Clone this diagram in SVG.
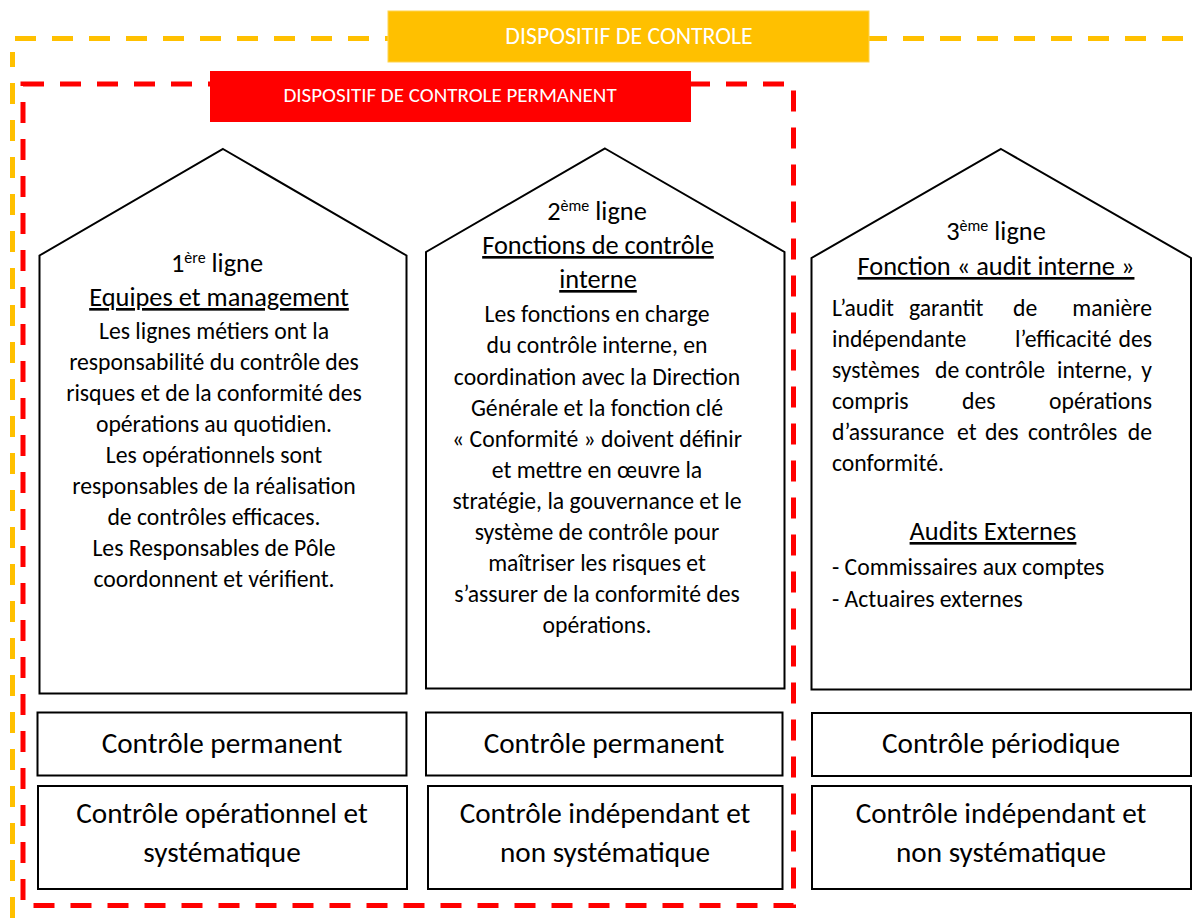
<svg xmlns="http://www.w3.org/2000/svg" width="1193" height="918" viewBox="0 0 1193 918">
<style>
text{font-family:Carlito,Lato,"Liberation Sans",sans-serif;fill:#000}
.b{font-size:23.7px;text-anchor:middle}
.j{font-size:23.7px}
.h{font-size:26.4px;text-anchor:middle}
.u{text-decoration:underline}
.sup{font-size:16px}
.box{fill:#fff;stroke:#000;stroke-width:2}
.bx{font-size:29.2px;text-anchor:middle}
.ban{fill:#fff;text-anchor:middle}
.house{fill:#fff;stroke:#000;stroke-width:2;stroke-linejoin:miter}
</style>
<rect width="1193" height="918" fill="#fff"/>
<g id="frames">
<path d="M12.5,918 V52" fill="none" stroke="#FFC000" stroke-width="5" stroke-dasharray="21 16"/>
<path d="M15,38.5 H1193" fill="none" stroke="#FFC000" stroke-width="5" stroke-dasharray="21 16"/>
<rect x="23" y="84" width="770.5" height="821.5" fill="none" stroke="#FF0000" stroke-width="5" stroke-dasharray="21 16"/>
</g>
<g id="banner-controle">
<rect x="388" y="11" width="481" height="51" fill="#FFC000" stroke="#FFD34D" stroke-width="1"/>
<text class="ban" x="629" y="44" font-size="23.8">DISPOSITIF DE CONTROLE</text>
</g>
<g id="banner-permanent">
<rect x="210" y="71" width="481" height="51" fill="#FF0000"/>
<text class="ban" x="450" y="102" font-size="21">DISPOSITIF DE CONTROLE PERMANENT</text>
</g>
<g id="house1">
<polygon class="house" points="223,149 406.5,255.5 406.5,693.5 39.5,693.5 39.5,255.5"/>
<text class="h" x="217" y="272">1<tspan class="sup" dy="-9">ère</tspan><tspan dy="9"> ligne</tspan></text>
<text class="h u" x="219" y="306">Equipes et management</text>
<text class="b" x="214" y="339">Les lignes métiers ont la</text>
<text class="b" x="214" y="370">responsabilité du contrôle des</text>
<text class="b" x="214" y="401">risques et de la conformité des</text>
<text class="b" x="214" y="432">opérations au quotidien.</text>
<text class="b" x="214" y="463">Les opérationnels sont</text>
<text class="b" x="214" y="494">responsables de la réalisation</text>
<text class="b" x="214" y="525">de contrôles efficaces.</text>
<text class="b" x="214" y="556">Les Responsables de Pôle</text>
<text class="b" x="214" y="587">coordonnent et vérifient.</text>
</g>
<g id="house2">
<polygon class="house" points="605,148.5 784.5,252 784.5,688.5 426,688.5 426,252"/>
<text class="h" x="597" y="220">2<tspan class="sup" dy="-9">ème</tspan><tspan dy="9"> ligne</tspan></text>
<text class="h u" x="598" y="254">Fonctions de contrôle</text>
<text class="h u" x="598" y="288">interne</text>
<text class="b" x="597" y="322">Les fonctions en charge</text>
<text class="b" x="597" y="353">du contrôle interne, en</text>
<text class="b" x="597" y="385">coordination avec la Direction</text>
<text class="b" x="597" y="416">Générale et la fonction clé</text>
<text class="b" x="597" y="447">« Conformité » doivent définir</text>
<text class="b" x="597" y="478">et mettre en œuvre la</text>
<text class="b" x="597" y="509">stratégie, la gouvernance et le</text>
<text class="b" x="597" y="540">système de contrôle pour</text>
<text class="b" x="597" y="571">maîtriser les risques et</text>
<text class="b" x="597" y="602">s’assurer de la conformité des</text>
<text class="b" x="597" y="633">opérations.</text>
</g>
<g id="house3">
<polygon class="house" points="1001,149 1191,258 1191,689.5 811.5,689.5 811.5,258"/>
<text class="h" x="996" y="240">3<tspan class="sup" dy="-9">ème</tspan><tspan dy="9"> ligne</tspan></text>
<text class="h u" x="996" y="275">Fonction « audit interne »</text>
<text class="j" y="316"><tspan x="832">L’audit</tspan><tspan x="909">garantit</tspan><tspan x="1013">de</tspan><tspan x="1152" text-anchor="end">manière</tspan></text>
<text class="j" y="347"><tspan x="832">indépendante</tspan><tspan x="1015">l’efficacité</tspan><tspan x="1152" text-anchor="end">des</tspan></text>
<text class="j" y="378"><tspan x="832">systèmes</tspan><tspan x="935">de</tspan><tspan x="965">contrôle</tspan><tspan x="1057">interne,</tspan><tspan x="1152" text-anchor="end">y</tspan></text>
<text class="j" y="409"><tspan x="832">compris</tspan><tspan x="962">des</tspan><tspan x="1152" text-anchor="end">opérations</tspan></text>
<text class="j" y="440"><tspan x="832">d’assurance</tspan><tspan x="957">et</tspan><tspan x="985">des</tspan><tspan x="1028">contrôles</tspan><tspan x="1152" text-anchor="end">de</tspan></text>
<text class="j" x="832" y="471">conformité.</text>
<text class="h u" x="993" y="540">Audits Externes</text>
<text class="j" x="832" y="575">- Commissaires aux comptes</text>
<text class="j" x="832" y="607">- Actuaires externes</text>
</g>
<g id="box1a"><rect class="box" x="37.5" y="712.5" width="369" height="63"/><text class="bx" x="222" y="753">Contrôle permanent</text></g>
<g id="box1b"><rect class="box" x="38" y="786" width="369" height="103"/><text class="bx" x="222" y="823">Contrôle opérationnel et</text><text class="bx" x="222" y="862">systématique</text></g>
<g id="box2a"><rect class="box" x="426" y="712.5" width="356.5" height="63"/><text class="bx" x="604" y="753">Contrôle permanent</text></g>
<g id="box2b"><rect class="box" x="428" y="786" width="354.5" height="103"/><text class="bx" x="605" y="823">Contrôle indépendant et</text><text class="bx" x="605" y="862">non systématique</text></g>
<g id="box3a"><rect class="box" x="812" y="713" width="379" height="63"/><text class="bx" x="1001" y="753">Contrôle périodique</text></g>
<g id="box3b"><rect class="box" x="812" y="786" width="379" height="103"/><text class="bx" x="1001" y="823">Contrôle indépendant et</text><text class="bx" x="1001" y="862">non systématique</text></g>
<g id="connectors"></g>
</svg>
